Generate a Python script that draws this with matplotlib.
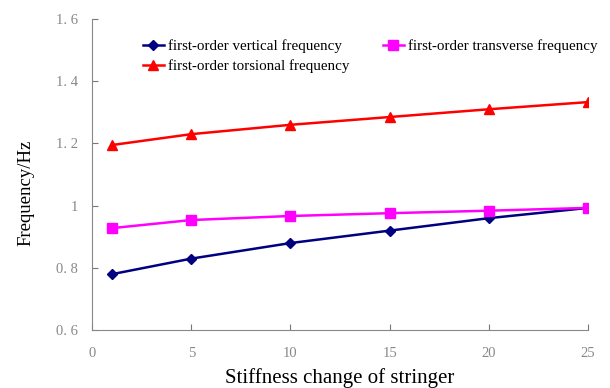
import matplotlib
matplotlib.use('Agg')
import matplotlib.pyplot as plt

stiffness = [1, 5, 10, 15, 20, 25]
vertical = [0.78, 0.83, 0.88, 0.92, 0.96, 0.993]
transverse = [0.928, 0.954, 0.967, 0.976, 0.984, 0.993]
torsional = [1.195, 1.23, 1.26, 1.285, 1.31, 1.333]

x_ticks = [0, 5, 10, 15, 20, 25]
y_ticks = [0.6, 0.8, 1.0, 1.2, 1.4, 1.6]
y_tick_labels = ["0. 6", "0. 8", "1", "1. 2", "1. 4", "1. 6"]

plt.rcParams['font.family'] = ['Liberation Serif', 'DejaVu Serif']

fig = plt.figure(figsize=(6.1, 3.88), dpi=100)
ax = fig.add_axes([0.151, 0.149, 0.813, 0.802])

l1, = ax.plot(stiffness, vertical, marker='D', color='#000080', linewidth=1.8,
              markersize=5, label='first-order vertical frequency')
l2, = ax.plot(stiffness, transverse, marker='s', color='#ff00ff', linewidth=1.8,
              markersize=7, label='first-order transverse frequency')
l3, = ax.plot(stiffness, torsional, marker='^', color='#ff0000', linewidth=1.8,
              markersize=7, label='first-order torsional frequency')

ax.set_xlim(0, 25)
ax.set_ylim(0.6, 1.6)
ax.set_xticks(x_ticks)
ax.set_yticks(y_ticks)
ax.set_yticklabels(y_tick_labels)
ax.tick_params(direction='in', colors='#777777', labelcolor='#888888', labelsize=10.5, length=4)
ax.tick_params(axis='x', pad=12)
ax.tick_params(axis='y', pad=10)
for s in ['top', 'right']:
    ax.spines[s].set_visible(False)
for s in ['left', 'bottom']:
    ax.spines[s].set_color('#888888')

ax.set_xlabel('Stiffness change of stringer', fontsize=15, labelpad=6)
ax.set_ylabel('Frequency/Hz', fontsize=13.5)
ax.yaxis.set_label_coords(-0.117, 0.44)

leg = ax.legend(handles=[l1, l3, l2], ncol=2, frameon=False, fontsize=10.8,
                loc='upper left', bbox_to_anchor=(0.09, 0.955), handlelength=1.4,
                handletextpad=0.3, columnspacing=2.2, labelspacing=0.45,
                borderaxespad=0)

plt.savefig('out.png', dpi=100)
